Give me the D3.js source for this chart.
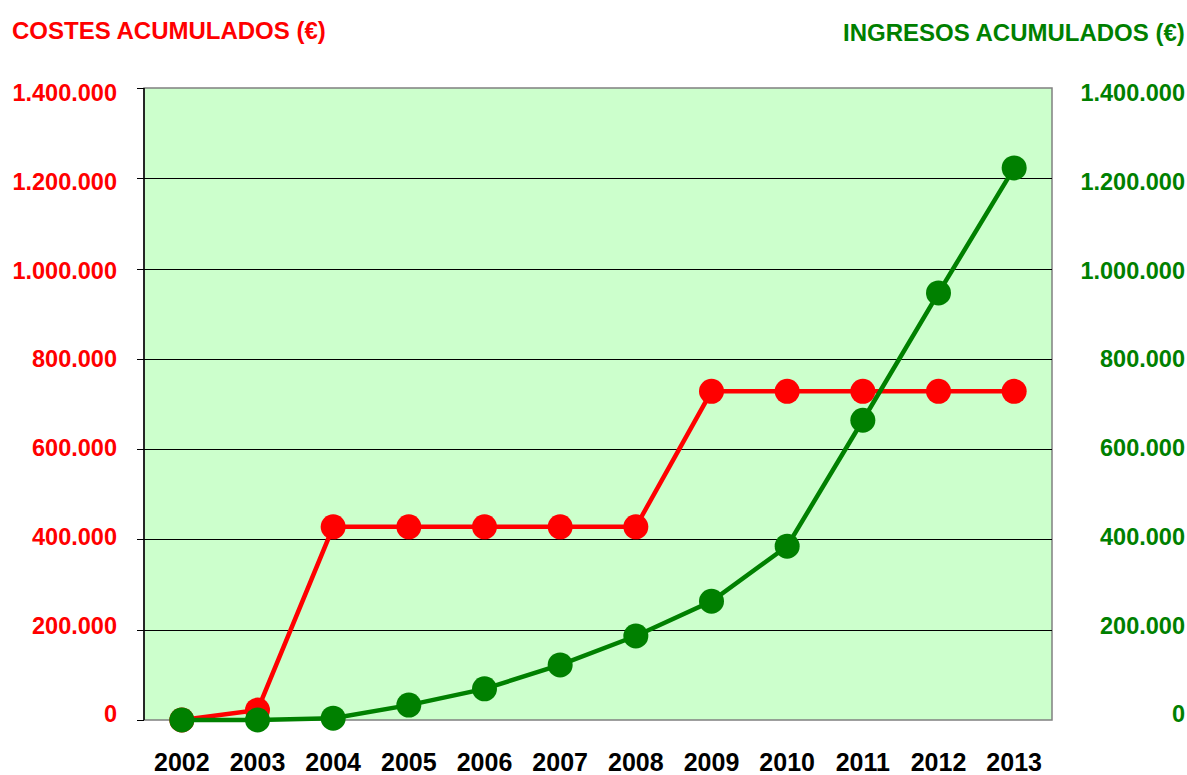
<!DOCTYPE html>
<html lang="es">
<head>
<meta charset="utf-8">
<title>Costes e ingresos acumulados</title>
<script src="https://cdn.jsdelivr.net/npm/d3@7"></script>
<style>
  body { margin: 0; background: #fff; overflow: hidden; }
  svg { display: block; font-family: "Liberation Sans", Arial, sans-serif; font-weight: bold; }
</style>
</head>
<body>
<script>
// data
var years = ["2002", "2003", "2004", "2005", "2006", "2007", "2008", "2009", "2010", "2011", "2012", "2013"];
var costes = [0, 22000, 428000, 428000, 428000, 428000, 428000, 728000, 728000, 728000, 728000, 728000];
var ingresos = [0, 0, 4000, 33000, 69000, 122000, 186000, 263000, 385000, 664000, 946000, 1223000];
var yTicks = [0, 200000, 400000, 600000, 800000, 1000000, 1200000, 1400000];

var w = 1187, h = 775;
var plotL = 144, plotR = 1052, plotT = 88, plotB = 720;

var svg = d3.select("body").append("svg")
    .attr("width", w)
    .attr("height", h);

var xScale = d3.scaleBand()
    .domain(years)
    .range([plotL, plotR]);

var yScale = d3.scaleLinear()
    .domain([0, 1400000])
    .range([plotB, plotT]);

// labels sit a touch inside the gridlines, as in the original
var labelScale = d3.scaleLinear()
    .domain([0, 1400000])
    .range([714, 93]);

var fmt = function(v) {
    return d3.format(",")(v).replace(/,/g, ".");
};

// plot area
svg.append("rect")
    .attr("x", plotL)
    .attr("y", plotT)
    .attr("width", plotR - plotL)
    .attr("height", plotB - plotT)
    .attr("fill", "#ccffcc")
    .attr("stroke", "#808080")
    .attr("stroke-width", 1.5);

// gridlines
svg.append("g")
    .selectAll("line")
    .data(yTicks.filter(function(d) { return d > 0 && d < 1400000; }))
    .enter()
    .append("line")
    .attr("x1", plotL)
    .attr("x2", plotR)
    .attr("y1", function(d) { return Math.round(yScale(d)) + 0.5; })
    .attr("y2", function(d) { return Math.round(yScale(d)) + 0.5; })
    .attr("stroke", "#000")
    .attr("stroke-width", 1);

// left axis line + ticks
svg.append("line")
    .attr("x1", plotL).attr("x2", plotL)
    .attr("y1", plotT).attr("y2", plotB)
    .attr("stroke", "#000").attr("stroke-width", 1.5);

svg.append("g")
    .selectAll("line")
    .data(yTicks)
    .enter()
    .append("line")
    .attr("x1", plotL - 7)
    .attr("x2", plotL)
    .attr("y1", function(d) { return Math.round(yScale(d)) + 0.5; })
    .attr("y2", function(d) { return Math.round(yScale(d)) + 0.5; })
    .attr("stroke", "#000");

// left tick labels (red)
svg.append("g")
    .selectAll("text")
    .data(yTicks)
    .enter()
    .append("text")
    .attr("x", 117)
    .attr("y", function(d) { return labelScale(d); })
    .attr("dy", "0.35em")
    .attr("text-anchor", "end")
    .attr("font-size", 23.5)
    .attr("fill", "#ff0000")
    .text(fmt);

// right tick labels (green)
svg.append("g")
    .selectAll("text")
    .data(yTicks)
    .enter()
    .append("text")
    .attr("x", 1185)
    .attr("y", function(d) { return labelScale(d); })
    .attr("dy", "0.35em")
    .attr("text-anchor", "end")
    .attr("font-size", 23.5)
    .attr("fill", "#008000")
    .text(fmt);

// year labels
svg.append("g")
    .selectAll("text")
    .data(years)
    .enter()
    .append("text")
    .attr("x", function(d) { return xScale(d) + xScale.bandwidth() / 2; })
    .attr("y", 771)
    .attr("text-anchor", "middle")
    .attr("font-size", 25)
    .attr("fill", "#000")
    .text(function(d) { return d; });

// axis titles
svg.append("text")
    .attr("x", 12)
    .attr("y", 39)
    .attr("font-size", 24)
    .attr("fill", "#ff0000")
    .text("COSTES ACUMULADOS (€)");

svg.append("text")
    .attr("x", 843)
    .attr("y", 41)
    .attr("font-size", 24)
    .attr("fill", "#008000")
    .text("INGRESOS ACUMULADOS (€)");

// series
function drawSeries(values, color) {
    var pts = values.map(function(v, i) {
        return [xScale(years[i]) + xScale.bandwidth() / 2, yScale(v)];
    });
    svg.append("path")
        .attr("d", d3.line()(pts))
        .attr("fill", "none")
        .attr("stroke", color)
        .attr("stroke-width", 4.5);
    svg.append("g")
        .selectAll("circle")
        .data(pts)
        .enter()
        .append("circle")
        .attr("cx", function(d) { return d[0]; })
        .attr("cy", function(d) { return d[1]; })
        .attr("r", 12.5)
        .attr("fill", color);
}

drawSeries(costes, "#ff0000");
drawSeries(ingresos, "#008000");
</script>
</body>
</html>
